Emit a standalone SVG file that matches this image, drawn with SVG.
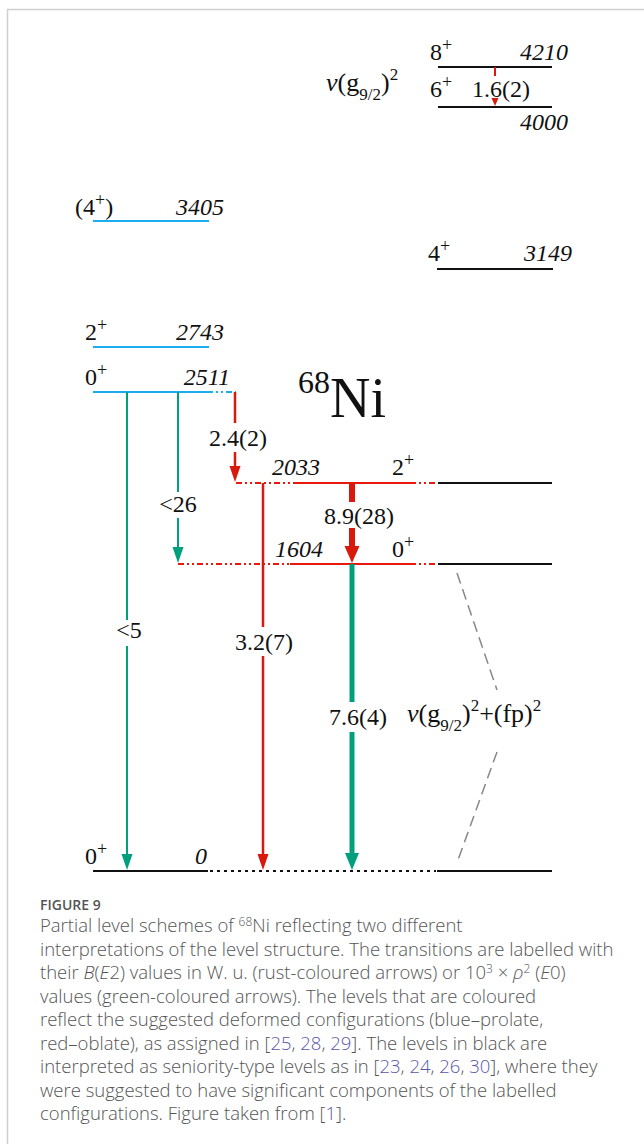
<svg xmlns="http://www.w3.org/2000/svg" width="644" height="1144" viewBox="0 0 644 1144">
<style>
.t{font-family:"Liberation Serif","Times New Roman",serif;font-size:24px;fill:#111}
.i{font-style:italic}
.s{font-size:18px}
.sb{font-size:17px}
.nu{font-style:italic}
.blk{stroke:#111;stroke-width:2;fill:none}
.blu{stroke:#1aaeef;stroke-width:2;fill:none}
.red{stroke:#e8190c;stroke-width:2;fill:none}
.dd{stroke-dasharray:6 3 2 3 2 3}
.dot{stroke-dasharray:3 4}
.ar{stroke:#d8190b;stroke-width:2.5;fill:none}
.arT{stroke:#d8190b;stroke-width:6;fill:none}
.ag{stroke:#009f7e;stroke-width:2;fill:none}
.agT{stroke:#009f7e;stroke-width:5;fill:none}
.gd{stroke:#888;stroke-width:1.5;stroke-dasharray:11 6;fill:none}
.cap{font-family:"Open Sans","Noto Sans",sans-serif;font-size:18.5px;font-weight:300;fill:#555}
.sup{font-size:12px}
.lnk{fill:#5a58a6}
</style>
<defs>
<marker id="hr" markerUnits="userSpaceOnUse" orient="auto" overflow="visible" refX="1" refY="0" markerWidth="20" markerHeight="20"><path d="M0,-5.5 L16,0 L0,5.5 z" fill="#d8190b"/></marker>
<marker id="hrT" markerUnits="userSpaceOnUse" orient="auto" overflow="visible" refX="1" refY="0" markerWidth="20" markerHeight="20"><path d="M0,-7.5 L17,0 L0,7.5 z" fill="#d8190b"/></marker>
<marker id="hg" markerUnits="userSpaceOnUse" orient="auto" overflow="visible" refX="1" refY="0" markerWidth="20" markerHeight="20"><path d="M0,-5.5 L16,0 L0,5.5 z" fill="#009f7e"/></marker>
<marker id="hgT" markerUnits="userSpaceOnUse" orient="auto" overflow="visible" refX="1" refY="0" markerWidth="20" markerHeight="20"><path d="M0,-7 L17,0 L0,7 z" fill="#009f7e"/></marker>
<marker id="hs" markerUnits="userSpaceOnUse" orient="auto" overflow="visible" refX="1" refY="0" markerWidth="20" markerHeight="20"><path d="M0,-3.5 L8,0 L0,3.5 z" fill="#d8190b"/></marker>
</defs>
<rect width="644" height="1144" fill="#fff"/>
<path d="M7.5,1144 V9.5 H644" stroke="#cfcfcf" stroke-width="1.5" fill="none"/>

<g id="level-4210">
<line class="blk" x1="438" y1="67" x2="552" y2="67"/>
<text class="t" x="430" y="60">8<tspan class="s" dy="-9">+</tspan></text>
<text class="t i" x="568" y="60" text-anchor="end">4210</text>
</g>
<g id="level-4000">
<line class="blk" x1="438" y1="107" x2="552" y2="107"/>
<text class="t" x="430" y="97">6<tspan class="s" dy="-9">+</tspan></text>
<text class="t i" x="568" y="130" text-anchor="end">4000</text>
</g>
<g id="label-g92">
<text class="t" x="326" y="91" style="font-size:26px"><tspan class="nu">ν</tspan>(g<tspan class="sb" dy="9">9/2</tspan><tspan dy="-9">)</tspan><tspan class="sb" dy="-11">2</tspan></text>
</g>
<g id="level-3405">
<line class="blu" x1="93" y1="221" x2="209" y2="221"/>
<text class="t" x="75" y="215">(4<tspan class="s" dy="-9">+</tspan><tspan dy="9">)</tspan></text>
<text class="t i" x="224" y="215" text-anchor="end">3405</text>
</g>
<g id="level-3149">
<line class="blk" x1="437" y1="269" x2="553" y2="269"/>
<text class="t" x="428" y="261">4<tspan class="s" dy="-9">+</tspan></text>
<text class="t i" x="572" y="261" text-anchor="end">3149</text>
</g>
<g id="level-2743">
<line class="blu" x1="93" y1="347" x2="209" y2="347"/>
<text class="t" x="85" y="340">2<tspan class="s" dy="-9">+</tspan></text>
<text class="t i" x="224" y="340" text-anchor="end">2743</text>
</g>
<g id="level-2511">
<line class="blu" x1="93" y1="392" x2="207" y2="392"/>
<line class="blu dd" x1="207" y1="392" x2="236" y2="392"/>
<text class="t" x="85" y="385">0<tspan class="s" dy="-9">+</tspan></text>
<text class="t i" x="230" y="385" text-anchor="end">2511</text>
</g>
<g id="label-68Ni">
<text class="t" x="298" y="417" style="font-size:56px"><tspan style="font-size:32px" dy="-24">68</tspan><tspan dy="24">Ni</tspan></text>
</g>
<g id="level-2033">
<line class="red dd" x1="236" y1="483" x2="295" y2="483"/>
<line class="red" x1="295" y1="483" x2="410" y2="483"/>
<line class="red dd" x1="410" y1="483" x2="437" y2="483"/>
<line class="blk" x1="438" y1="483" x2="552" y2="483"/>
<text class="t i" x="272" y="475">2033</text>
<text class="t" x="392" y="475">2<tspan class="s" dy="-9">+</tspan></text>
</g>
<g id="level-1604">
<line class="red dd" x1="178" y1="564" x2="290" y2="564"/>
<line class="red" x1="290" y1="564" x2="410" y2="564"/>
<line class="red dd" x1="410" y1="564" x2="437" y2="564"/>
<line class="blk" x1="438" y1="564" x2="552" y2="564"/>
<text class="t i" x="275" y="557">1604</text>
<text class="t" x="392" y="557">0<tspan class="s" dy="-9">+</tspan></text>
</g>
<g id="level-0">
<line class="blk" x1="93" y1="871" x2="208" y2="871"/>
<line class="blk dot" x1="210" y1="871" x2="436" y2="871"/>
<line class="blk" x1="437" y1="871" x2="552" y2="871"/>
<text class="t" x="85" y="864">0<tspan class="s" dy="-9">+</tspan></text>
<text class="t i" x="195" y="864">0</text>
</g>
<g id="label-g92fp">
<text class="t" x="407" y="722" style="font-size:26px"><tspan class="nu">ν</tspan>(g<tspan class="sb" dy="9">9/2</tspan><tspan dy="-9">)</tspan><tspan class="sb" dy="-11">2</tspan><tspan dy="11">+(fp)</tspan><tspan class="sb" dy="-11">2</tspan></text>
</g>

<g id="connectors">
<line stroke="#d8190b" stroke-width="2" x1="495" y1="67" x2="495" y2="76"/>
<line stroke="#d8190b" stroke-width="2" x1="495" y1="98" x2="495" y2="99" marker-end="url(#hs)"/>
<line class="ar" x1="235" y1="392" x2="235" y2="423"/>
<line class="ar" x1="235" y1="452" x2="235" y2="467" marker-end="url(#hr)"/>
<line class="arT" x1="352" y1="483" x2="352" y2="502"/>
<line class="arT" x1="352" y1="528" x2="352" y2="547" marker-end="url(#hrT)"/>
<line class="ag" x1="178" y1="392" x2="178" y2="492"/>
<line class="ag" x1="178" y1="518" x2="178" y2="548" marker-end="url(#hg)"/>
<line class="ag" x1="127" y1="392" x2="127" y2="620"/>
<line class="ag" x1="127" y1="646" x2="127" y2="855" marker-end="url(#hg)"/>
<line class="ar" x1="263" y1="483" x2="263" y2="627"/>
<line class="ar" x1="263" y1="656" x2="263" y2="855" marker-end="url(#hr)"/>
<line class="agT" x1="352" y1="564" x2="352" y2="702"/>
<line class="agT" x1="352" y1="732" x2="352" y2="854" marker-end="url(#hgT)"/>
<line class="gd" x1="457" y1="573" x2="497" y2="690"/>
<line class="gd" x1="497" y1="752" x2="458" y2="860"/>
</g>
<g id="transition-labels">
<text class="t" x="472" y="97">1.6(2)</text>
<text class="t" x="238" y="446" text-anchor="middle">2.4(2)</text>
<text class="t" x="178" y="512" text-anchor="middle">&lt;26</text>
<text class="t" x="359" y="524" text-anchor="middle">8.9(28)</text>
<text class="t" x="129" y="638" text-anchor="middle">&lt;5</text>
<text class="t" x="264" y="650" text-anchor="middle">3.2(7)</text>
<text class="t" x="358" y="725" text-anchor="middle">7.6(4)</text>
</g>

<g id="caption">
<text class="cap" x="40" y="910" style="font-size:14px;font-weight:600">FIGURE 9</text>
<text class="cap" x="40" y="932">Partial level schemes of <tspan class="sup" dy="-6">68</tspan><tspan dy="6">Ni reflecting two different</tspan></text>
<text class="cap" x="40" y="955.5">interpretations of the level structure. The transitions are labelled with</text>
<text class="cap" x="40" y="979">their <tspan font-style="italic">B</tspan>(<tspan font-style="italic">E</tspan>2) values in W. u. (rust-coloured arrows) or 10<tspan class="sup" dy="-6">3</tspan><tspan dy="6"> × </tspan><tspan font-style="italic">ρ</tspan><tspan class="sup" dy="-6">2</tspan><tspan dy="6"> (</tspan><tspan font-style="italic">E</tspan>0)</text>
<text class="cap" x="40" y="1002.5">values (green-coloured arrows). The levels that are coloured</text>
<text class="cap" x="40" y="1026">reflect the suggested deformed configurations (blue–prolate,</text>
<text class="cap" x="40" y="1049.5">red–oblate), as assigned in [<tspan class="lnk">25</tspan>, <tspan class="lnk">28</tspan>, <tspan class="lnk">29</tspan>]. The levels in black are</text>
<text class="cap" x="40" y="1073">interpreted as seniority-type levels as in [<tspan class="lnk">23</tspan>, <tspan class="lnk">24</tspan>, <tspan class="lnk">26</tspan>, <tspan class="lnk">30</tspan>], where they</text>
<text class="cap" x="40" y="1096.5">were suggested to have significant components of the labelled</text>
<text class="cap" x="40" y="1120">configurations. Figure taken from [<tspan class="lnk">1</tspan>].</text>
</g>
</svg>
